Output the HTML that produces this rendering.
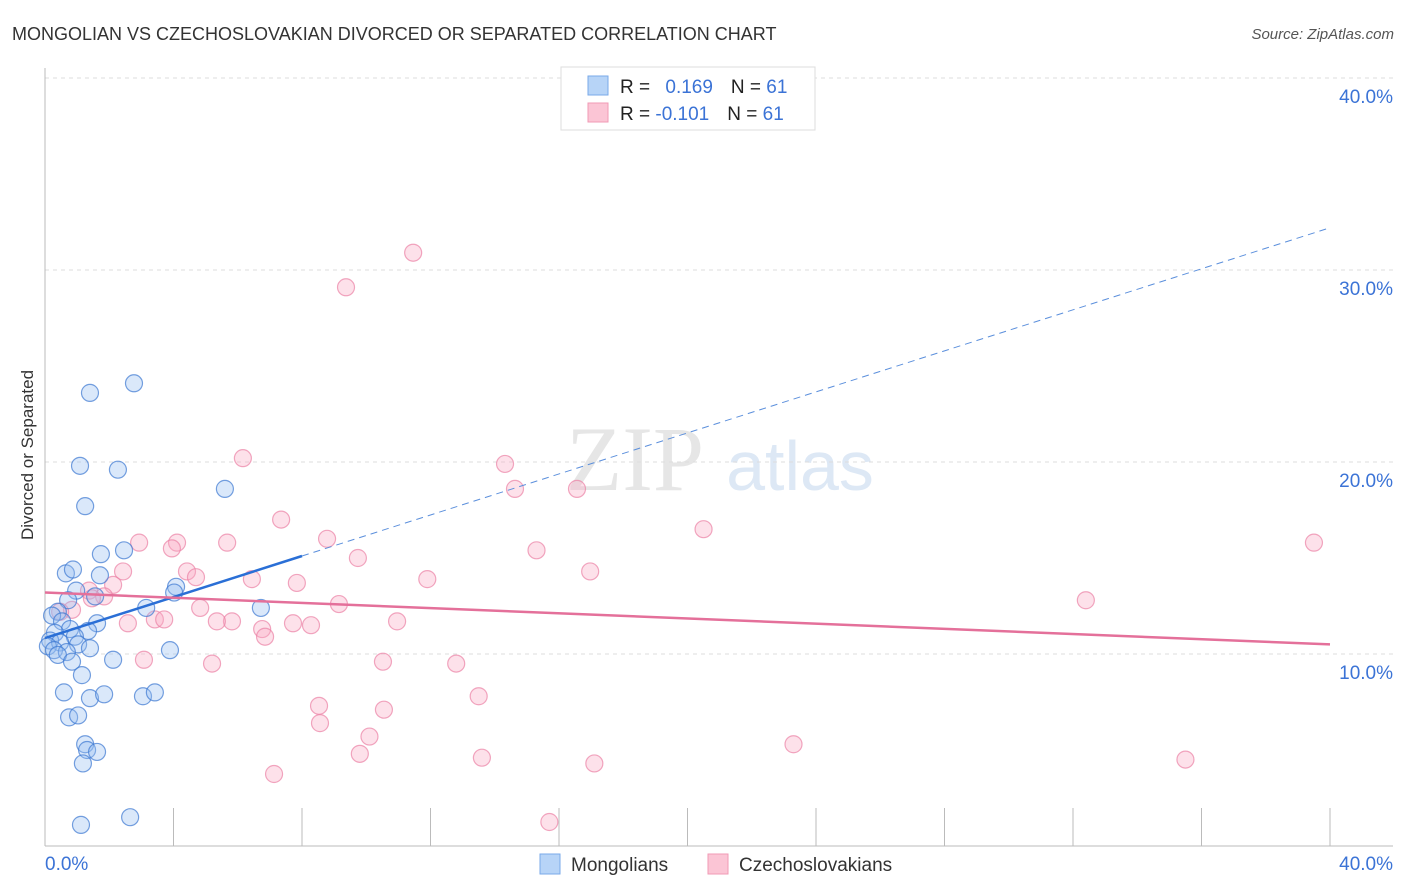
<!DOCTYPE html>
<html><head><meta charset="utf-8"><style>
body{margin:0;background:#fff;font-family:"Liberation Sans",sans-serif}
svg{display:block}
</style></head><body>
<svg id="chart" width="1406" height="892" xmlns="http://www.w3.org/2000/svg">
<text x="12" y="40" font-size="18" fill="#333">MONGOLIAN VS CZECHOSLOVAKIAN DIVORCED OR SEPARATED CORRELATION CHART</text>
<text x="1394" y="39" font-size="15" fill="#555" font-style="italic" text-anchor="end">Source: ZipAtlas.com</text>
<text x="33" y="455" font-size="17" fill="#333" text-anchor="middle" transform="rotate(-90 33 455)">Divorced or Separated</text>
<g><text x="635" y="490" font-size="92" fill="#e6e6e6" font-family="Liberation Serif" text-anchor="middle">ZIP</text><text x="800" y="490" font-size="70" fill="#dde8f5" text-anchor="middle">atlas</text></g>
<g id="grid"></g><g id="axes"></g><g id="marks"></g>
<g>
<rect x="561" y="67" width="254" height="63" fill="#fff" stroke="#ddd"/>
<rect x="588" y="76" width="20" height="19" fill="#b7d4f7" stroke="#7aaae8"/>
<rect x="588" y="103" width="20" height="19" fill="#fbc5d5" stroke="#f09ab5"/>
<text x="620" y="93" font-size="19" fill="#222">R = <tspan fill="#3b73d6" dx="10">0.169</tspan><tspan dx="18" fill="#222">N = </tspan><tspan fill="#3b73d6">61</tspan></text>
<text x="620" y="120" font-size="19" fill="#222">R = <tspan fill="#3b73d6">-0.101</tspan><tspan dx="18" fill="#222">N = </tspan><tspan fill="#3b73d6">61</tspan></text>
</g>
<g>
<rect x="540" y="854" width="20" height="20" fill="#b7d4f7" stroke="#7aaae8"/>
<text x="571" y="871" font-size="19" fill="#333">Mongolians</text>
<rect x="708" y="854" width="20" height="20" fill="#fbc5d5" stroke="#f09ab5"/>
<text x="739" y="871" font-size="19" fill="#333">Czechoslovakians</text>
</g>
</svg>
<script>
const xTicks=[0,4,8,12,16,20,24,28,32,36,40];
const yTickVals=[10,20,30,40];
const yTickLabels=["10.0%","20.0%","30.0%","40.0%"];
const mongX=[1.4,2.77,1.09,2.27,5.6,1.25,1.74,2.46,0.65,0.87,1.71,4.08,4.02,0.97,1.56,0.72,3.15,6.72,0.4,0.22,0.53,1.62,1.34,0.78,0.31,0.93,0.16,0.47,1.03,0.09,0.28,1.4,3.89,0.68,0.4,2.12,0.84,1.15,0.59,1.4,1.84,3.05,3.42,0.75,1.03,1.25,1.31,1.62,1.18,1.12,2.65];
const mongY=[23.6,24.1,19.8,19.6,18.6,17.7,15.2,15.4,14.2,14.4,14.1,13.5,13.2,13.3,13.0,12.8,12.4,12.4,12.2,12.0,11.7,11.6,11.2,11.3,11.1,10.9,10.7,10.6,10.5,10.4,10.2,10.3,10.2,10.1,9.95,9.7,9.6,8.9,8.0,7.7,7.9,7.8,8.0,6.7,6.8,5.3,5.0,4.9,4.3,1.1,1.5];
const czX=[11.46,9.37,6.16,14.32,14.63,16.56,7.35,20.5,39.5,2.93,4.11,5.67,8.78,3.95,15.3,9.74,16.97,2.43,4.42,4.7,6.44,11.9,7.84,2.12,1.37,1.84,1.46,32.4,9.15,4.83,0.84,0.47,3.42,3.71,5.82,5.35,10.96,7.72,8.28,2.58,6.76,6.85,3.08,5.2,10.52,12.8,13.5,8.53,10.55,8.56,10.1,23.3,9.8,13.6,35.5,17.1,7.13,15.7];
const czY=[30.9,29.1,20.2,19.9,18.6,18.6,17.0,16.5,15.8,15.8,15.8,15.8,16.0,15.5,15.4,15.0,14.3,14.3,14.3,14.0,13.9,13.9,13.7,13.6,13.3,13.0,12.9,12.8,12.6,12.4,12.3,12.2,11.8,11.8,11.7,11.7,11.7,11.6,11.5,11.6,11.3,10.9,9.7,9.5,9.6,9.5,7.8,7.3,7.1,6.4,5.7,5.3,4.8,4.6,4.5,4.3,3.75,1.25];
const mongTrend=[10.83,32.2];
const czTrend=[13.2,10.5];
const NS="http://www.w3.org/2000/svg";
const X=v=>45+v/40*1285, Y=v=>846-v*19.2;
function mk(t,a,p){const e=document.createElementNS(NS,t);for(const k in a)e.setAttribute(k,a[k]);document.getElementById(p).appendChild(e);return e;}
yTickVals.forEach((v,i)=>{
 const g=mk('line',{x1:45,x2:1393,y1:Y(v),y2:Y(v),stroke:'#ddd','stroke-dasharray':'4,4'},'grid');
 
 
 const t=mk('text',{x:1393,y:Y(v)+25,'font-size':19,fill:'#3b73d6','text-anchor':'end'},'axes');t.textContent=yTickLabels[i];
 
 
});
let a=mk('line',{x1:45,x2:1393,y1:846,y2:846,stroke:'#bbb'},'axes');


a=mk('line',{x1:45,x2:45,y1:68,y2:846,stroke:'#bbb'},'axes');


xTicks.forEach(v=>{const l=mk('line',{x1:X(v),x2:X(v),y1:808,y2:846,stroke:'#bbb'},'axes');
 
 });
let t=mk('text',{x:45,y:870,'font-size':19,fill:'#3b73d6'},'axes');t.textContent='0.0%';


t=mk('text',{x:1393,y:870,'font-size':19,fill:'#3b73d6','text-anchor':'end'},'axes');t.textContent='40.0%';


czX.forEach((x,i)=>{const c=mk('circle',{cx:X(x),cy:Y(czY[i]),r:8.5,fill:'rgba(248,170,195,0.35)',stroke:'rgba(235,130,165,0.7)','stroke-width':1.2},'marks');
 
 });
mongX.forEach((x,i)=>{const c=mk('circle',{cx:X(x),cy:Y(mongY[i]),r:8.5,fill:'rgba(150,190,240,0.35)',stroke:'rgba(60,120,210,0.7)','stroke-width':1.2},'marks');
 
 });
const mAt=v=>mongTrend[0]+(mongTrend[1]-mongTrend[0])*v/40;
let l=mk('line',{x1:X(0),y1:Y(mAt(0)),x2:X(8),y2:Y(mAt(8)),stroke:'#2a6fd6','stroke-width':2.5},'marks');


l=mk('line',{x1:X(8),y1:Y(mAt(8)),x2:X(40),y2:Y(mAt(40)),stroke:'#5b8fdc','stroke-width':1,'stroke-dasharray':'7,5'},'marks');


l=mk('line',{x1:X(0),y1:Y(czTrend[0]),x2:X(40),y2:Y(czTrend[1]),stroke:'#e4709a','stroke-width':2.5},'marks');


</script>
</body></html>
